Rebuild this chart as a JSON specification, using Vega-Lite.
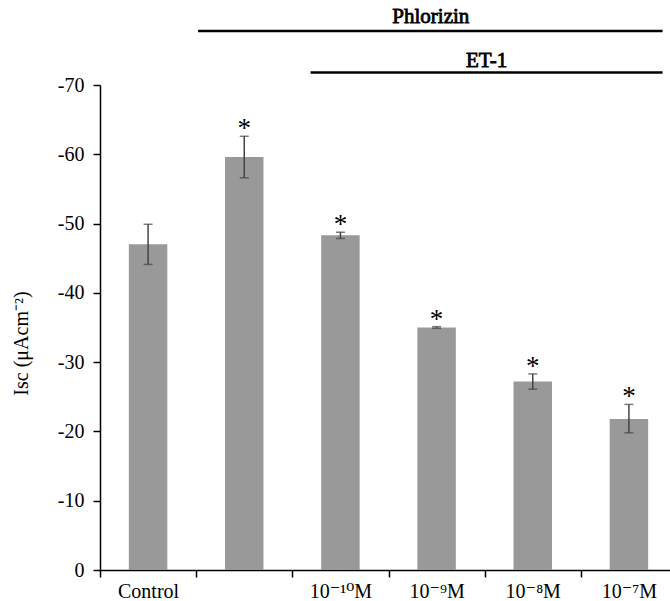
{
  "$schema": "https://vega.github.io/schema/vega-lite/v6.json",
  "width": 570,
  "height": 485,
  "autosize": {"type": "none"},
  "padding": {"left": 100, "top": 85, "right": 0, "bottom": 31},
  "background": "white",
  "config": {
    "view": {"stroke": null},
    "font": "Liberation Serif",
    "text": {"font": "Liberation Serif"},
    "axis": {
      "domainColor": "black",
      "tickColor": "black",
      "domainWidth": 1.5,
      "tickWidth": 1.5,
      "labelColor": "black",
      "labelFont": "Liberation Serif, DejaVu Serif, serif",
      "labelFontSize": 20,
      "titleFont": "Liberation Serif",
      "titleColor": "black",
      "grid": false,
      "tickSize": 7
    }
  },
  "datasets": {
    "bars": [
      {"g": "Control", "v": -47.0, "lo": -44.1, "hi": -49.9, "star": ""},
      {"g": " ", "v": -59.6, "lo": -56.6, "hi": -62.6, "star": "*"},
      {"g": "10⁻¹⁰M", "v": -48.3, "lo": -47.85, "hi": -48.75, "star": "*"},
      {"g": "10⁻⁹M", "v": -35.0, "lo": -34.88, "hi": -35.12, "star": "*"},
      {"g": "10⁻⁸M", "v": -27.2, "lo": -26.1, "hi": -28.3, "star": "*"},
      {"g": "10⁻⁷M", "v": -21.8, "lo": -19.8, "hi": -23.9, "star": "*"}
    ],
    "notes": [
      {"label": "Phlorizin", "x1": 1.02, "x2": 5.85, "ly": -77.8, "tx": 3.44, "ty": -78.9},
      {"label": "ET-1", "x1": 2.19, "x2": 5.85, "ly": -71.8, "tx": 4.02, "ty": -72.6}
    ]
  },
  "layer": [
    {
      "data": {"name": "bars"},
      "encoding": {
        "x": {
          "field": "g",
          "type": "nominal",
          "sort": null,
          "scale": {"range": [0, 577], "padding": 0},
          "axis": {"title": null, "labelAngle": 0, "tickBand": "extent", "labelPadding": 4}
        }
      },
      "layer": [
        {
          "mark": {"type": "bar", "width": {"band": 0.4}, "color": "#999999"},
          "encoding": {
            "y": {
              "field": "v",
              "type": "quantitative",
              "scale": {"domain": [-70, 0], "reverse": true, "nice": false},
              "axis": {
                "values": [-70, -60, -50, -40, -30, -20, -10, 0],
                "labelExpr": "datum.value == 0 ? '0' : '-' + abs(datum.value)",
                "labelPadding": 9,
                "title": "Isc (μAcm⁻²)",
                "titleFontSize": 20,
                "titleFontWeight": "normal",
                "titleAngle": -90,
                "titleAlign": "center",
                "titleBaseline": "middle",
                "titleX": -79,
                "titleY": 258
              }
            }
          }
        },
        {
          "mark": {"type": "rule", "color": "#444444", "strokeWidth": 1.5},
          "encoding": {
            "y": {"field": "lo", "type": "quantitative", "title": "Isc (μAcm⁻²)"},
            "y2": {"field": "hi"}
          }
        },
        {
          "mark": {"type": "tick", "color": "#444444", "thickness": 1.5, "size": 9},
          "encoding": {"y": {"field": "lo", "type": "quantitative", "title": "Isc (μAcm⁻²)"}}
        },
        {
          "mark": {"type": "tick", "color": "#444444", "thickness": 1.5, "size": 9},
          "encoding": {"y": {"field": "hi", "type": "quantitative", "title": "Isc (μAcm⁻²)"}}
        },
        {
          "mark": {"type": "text", "fontSize": 27, "baseline": "alphabetic", "dy": 1, "color": "black", "font": "Liberation Serif"},
          "encoding": {
            "y": {"field": "hi", "type": "quantitative", "title": "Isc (μAcm⁻²)"},
            "text": {"field": "star"}
          }
        }
      ]
    },
    {
      "data": {"name": "notes"},
      "layer": [
        {
          "mark": {"type": "rule", "color": "black", "strokeWidth": 2.5},
          "encoding": {
            "x": {"field": "x1", "type": "quantitative", "scale": {"domain": [0, 6], "range": [0, 577], "nice": false, "zero": false}, "axis": null},
            "x2": {"field": "x2"},
            "y": {"field": "ly", "type": "quantitative", "title": "Isc (μAcm⁻²)"}
          }
        },
        {
          "mark": {"type": "text", "fontSize": 21, "baseline": "alphabetic", "align": "center", "fill": "black", "stroke": "black", "strokeWidth": 0.8, "font": "Liberation Serif"},
          "encoding": {
            "x": {"field": "tx", "type": "quantitative", "axis": null},
            "y": {"field": "ty", "type": "quantitative", "title": "Isc (μAcm⁻²)"},
            "text": {"field": "label"}
          }
        }
      ]
    }
  ],
  "resolve": {"scale": {"x": "independent"}, "axis": {"x": "independent"}}
}
